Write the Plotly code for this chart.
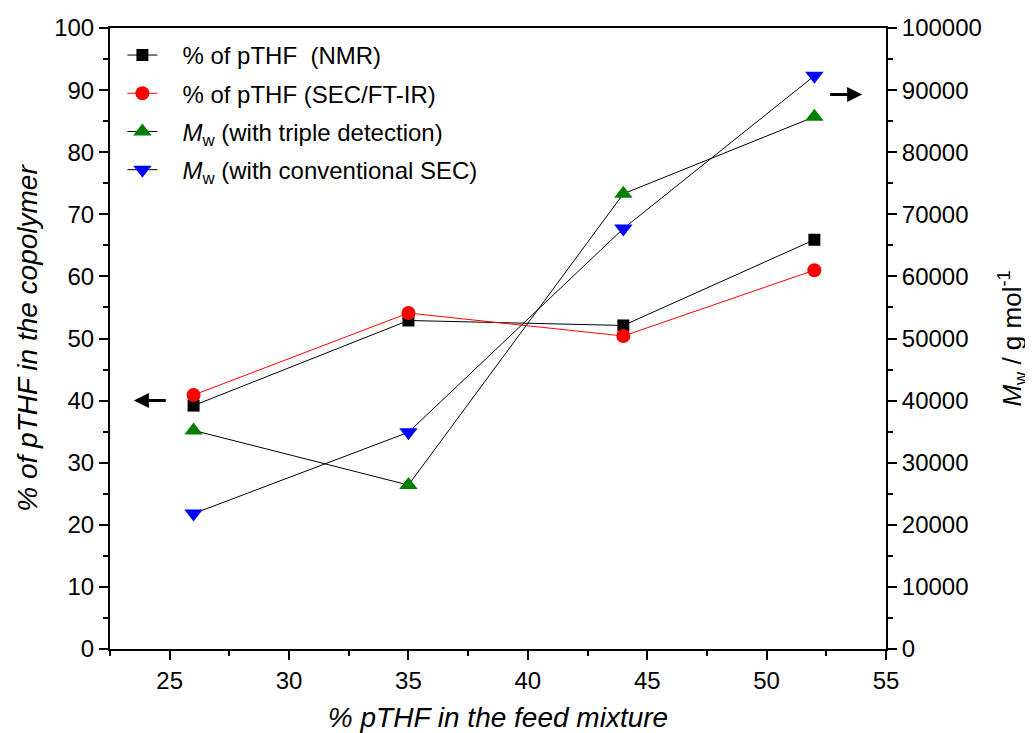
import plotly.graph_objects as go

feed = [26, 35, 44, 52]
pthf_nmr = [39.2, 52.9, 52.1, 65.9]
pthf_sec = [40.9, 54.1, 50.4, 61.0]
mw_triple = [35200, 26400, 73300, 85700]
mw_conv = [21800, 34900, 67700, 92300]

FONT = "Liberation Sans, Arial, sans-serif"
PAD = "\u00a0\u00a0\u00a0"

fig = go.Figure()
fig.add_trace(go.Scatter(x=feed, y=pthf_nmr, name=PAD + "% of pTHF  (NMR)", mode="lines+markers",
                         legendgroup="a",
                         line=dict(color="black", width=1),
                         marker=dict(symbol="square", size=12, color="black")))
fig.add_trace(go.Scatter(x=feed, y=pthf_sec, name=PAD + "% of pTHF (SEC/FT-IR)", mode="lines+markers",
                         legendgroup="b",
                         line=dict(color="red", width=1),
                         marker=dict(symbol="circle", size=14, color="red")))
fig.add_trace(go.Scatter(x=feed, y=mw_triple, name=PAD + "<i>M</i><sub>w</sub> (with triple detection)",
                         mode="lines+markers", yaxis="y2", legendgroup="c",
                         line=dict(color="black", width=1),
                         marker=dict(symbol="triangle-up", size=16, color="#008000")))
fig.add_trace(go.Scatter(x=feed, y=mw_conv, name=PAD + "<i>M</i><sub>w</sub> (with conventional SEC)",
                         mode="lines+markers", yaxis="y2", legendgroup="d",
                         line=dict(color="black", width=1),
                         marker=dict(symbol="triangle-down", size=16, color="blue")))

axis_common = dict(showline=True, linecolor="black", linewidth=2, ticks="outside",
                   ticklen=9, tickwidth=2, tickcolor="black", showgrid=False, zeroline=False,
                   automargin=False,
                   tickfont=dict(family=FONT, size=24, color="black"))

fig.update_layout(
    width=1025, height=725,
    margin=dict(l=102, r=147, t=20, b=84),
    paper_bgcolor="white", plot_bgcolor="white",
    font=dict(family=FONT, size=24, color="black"),
    showlegend=True,
    legend=dict(x=0.016, y=0.992, xanchor="left", yanchor="top",
                bgcolor="rgba(0,0,0,0)", font=dict(family=FONT, size=24),
                tracegroupgap=4),
    xaxis=dict(range=[22.5, 55], dtick=5, tick0=25, mirror=True,
               minor=dict(ticks="outside", ticklen=5, tickwidth=2, dtick=2.5, tick0=22.5, tickcolor="black"),
               title=dict(text="<i>% pTHF in the feed mixture</i>", font=dict(family=FONT, size=28), standoff=16),
               **axis_common),
    yaxis=dict(range=[0, 100], dtick=10,
               minor=dict(ticks="outside", ticklen=5, tickwidth=2, dtick=5, tickcolor="black"),
               title=dict(text="<i>% of pTHF in the copolymer</i>", font=dict(family=FONT, size=28), standoff=8),
               **axis_common),
    yaxis2=dict(range=[0, 100000], dtick=10000, tickformat="d", overlaying="y", side="right",
                minor=dict(ticks="outside", ticklen=5, tickwidth=2, dtick=5000, tickcolor="black"),
                title=dict(text="<i>M</i><sub>w</sub> / g mol<sup>-1</sup>", font=dict(family=FONT, size=26), standoff=22),
                **axis_common),
)

fig.add_annotation(x=23.5, y=40, ax=24.9, ay=40, xref="x", yref="y", axref="x", ayref="y",
                   showarrow=True, arrowhead=2, arrowsize=1, arrowwidth=3, arrowcolor="black", text="")
fig.add_annotation(x=54.0, y=89.3, ax=52.6, ay=89.3, xref="x", yref="y", axref="x", ayref="y",
                   showarrow=True, arrowhead=2, arrowsize=1, arrowwidth=3, arrowcolor="black", text="")

fig.write_html("out.html")
